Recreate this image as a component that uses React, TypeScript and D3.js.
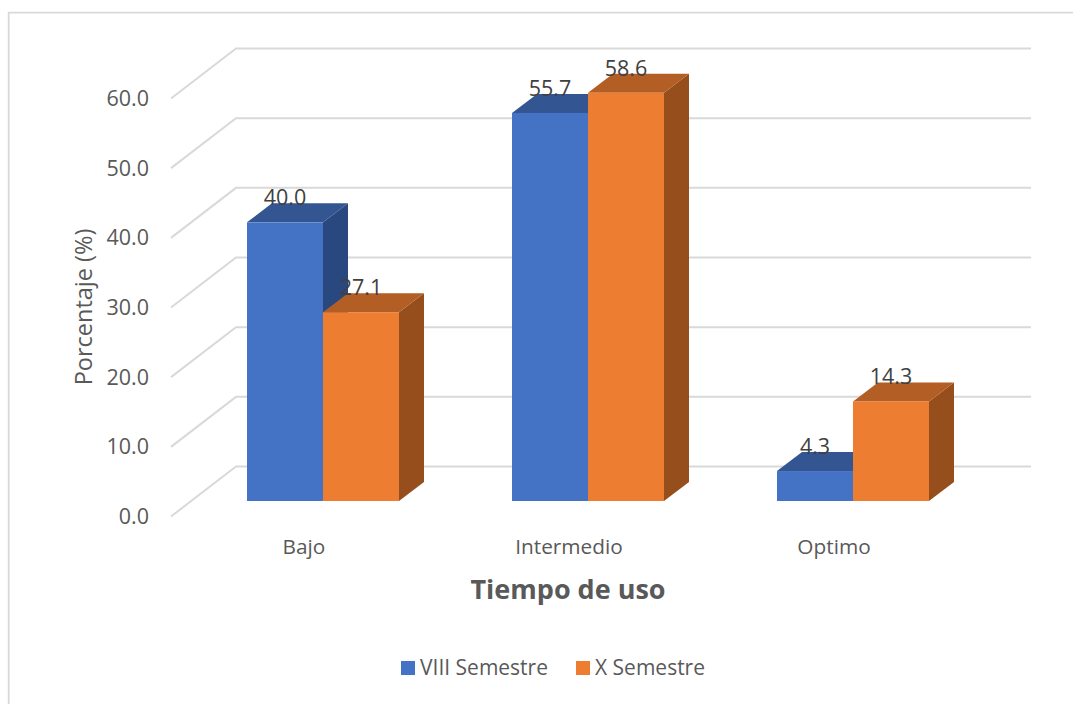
import React from "react";
import * as d3 from "d3";

const categories = ["Bajo", "Intermedio", "Optimo"];
const seriesNames = ["VIII Semestre", "X Semestre"];
const viiiSemestre = [40.0, 55.7, 4.3];
const xSemestre = [27.1, 58.6, 14.3];
const yTicks = [0, 10, 20, 30, 40, 50, 60];

const FONT = "'Open Sans', sans-serif";
const TEXT = "#595959";
const LABEL = "#404040";
const GRID = "#d9d9d9";

const palette = [
  { front: "#4472c4", top: "#335693", side: "#2a4880" },
  { front: "#ed7d31", top: "#b25e25", side: "#964f1c" },
];

// Oblique offsets of the 3D projection
const wallDx = 65;
const wallDy = 50;
const wallBackRise = 34.5;
const barDepthX = 25;
const barDepthY = 19;

const y = d3.scaleLinear().domain([0, 60]).range([501, 83]);
const xCat = d3.scaleBand().domain(categories).range([190.5, 985.5]);
const barWidth = 76;

function Bar({ x, value, colors }: { x: number; value: number; colors: (typeof palette)[number] }) {
  const yTop = y(value);
  const yBase = y(0);
  const x1 = x + barWidth;
  const top = [[x, yTop], [x + barDepthX, yTop - barDepthY], [x1 + barDepthX, yTop - barDepthY], [x1, yTop]];
  const side = [[x1, yTop], [x1 + barDepthX, yTop - barDepthY], [x1 + barDepthX, yBase - barDepthY], [x1, yBase]];
  const pts = (p: number[][]) => p.map((q) => q.join(",")).join(" ");
  return (
    <g>
      <polygon points={pts(side)} fill={colors.side} />
      <polygon points={pts(top)} fill={colors.top} />
      <rect x={x} y={yTop} width={barWidth} height={yBase - yTop} fill={colors.front} />
    </g>
  );
}

export default function App() {
  const series = [viiiSemestre, xSemestre];
  return (
    <svg
      width={1073}
      height={704}
      viewBox="0 0 1073 704"
      style={{ position: "absolute", left: 0, top: 0, background: "#fff" }}
      fontFamily={FONT}
    >
      {/* Chart frame: only the top and left edges fall inside the canvas */}
      <polyline points="8.7,704 8.7,12.7 1073,12.7" fill="none" stroke={GRID} strokeWidth={1.8} />

      {yTicks.map((t) => (
        <g key={t}>
          <polyline
            points={`${171},${y(t) + wallDy - wallBackRise} ${171 + wallDx},${y(t) - wallBackRise} 1031,${y(t) - wallBackRise}`}
            fill="none"
            stroke={GRID}
            strokeWidth={2}
          />
          <text x={149} y={y(t) + 23} textAnchor="end" fontSize={21.5} fill={TEXT}>
            {t.toFixed(1)}
          </text>
        </g>
      ))}

      {categories.map((c, i) => {
        const x0 = xCat(c)! + xCat.bandwidth() / 2 - barWidth;
        return (
          <g key={c}>
            {series.map((s, k) => (
              <Bar key={k} x={x0 + k * barWidth} value={s[i]} colors={palette[k]} />
            ))}
          </g>
        );
      })}

      {categories.map((c, i) => {
        const x0 = xCat(c)! + xCat.bandwidth() / 2 - barWidth;
        return (
          <g key={c}>
            {series.map((s, k) => (
              <text
                key={k}
                x={x0 + k * barWidth + barWidth / 2}
                y={y(s[i]) - barDepthY + 2}
                textAnchor="middle"
                fontSize={21.5}
                fill={LABEL}
              >
                {s[i].toFixed(1)}
              </text>
            ))}
            <text
              x={xCat(c)! + xCat.bandwidth() / 2 - 19}
              y={554}
              textAnchor="middle"
              fontSize={20.8}
              fill={TEXT}
            >
              {c}
            </text>
          </g>
        );
      })}

      <text
        transform="translate(91.5,307) rotate(-90)"
        textAnchor="middle"
        fontSize={23.5}
        fill={TEXT}
      >
        Porcentaje (%)
      </text>
      <text x={568} y={599} textAnchor="middle" fontSize={27} fontWeight={700} fill={TEXT}>
        Tiempo de uso
      </text>

      <rect x={401} y={661} width={14} height={14} fill={palette[0].front} />
      <text x={420} y={675} fontSize={21} fill={TEXT}>{seriesNames[0]}</text>
      <rect x={576} y={661} width={14} height={14} fill={palette[1].front} />
      <text x={595} y={675} fontSize={21} fill={TEXT}>{seriesNames[1]}</text>
    </svg>
  );
}
